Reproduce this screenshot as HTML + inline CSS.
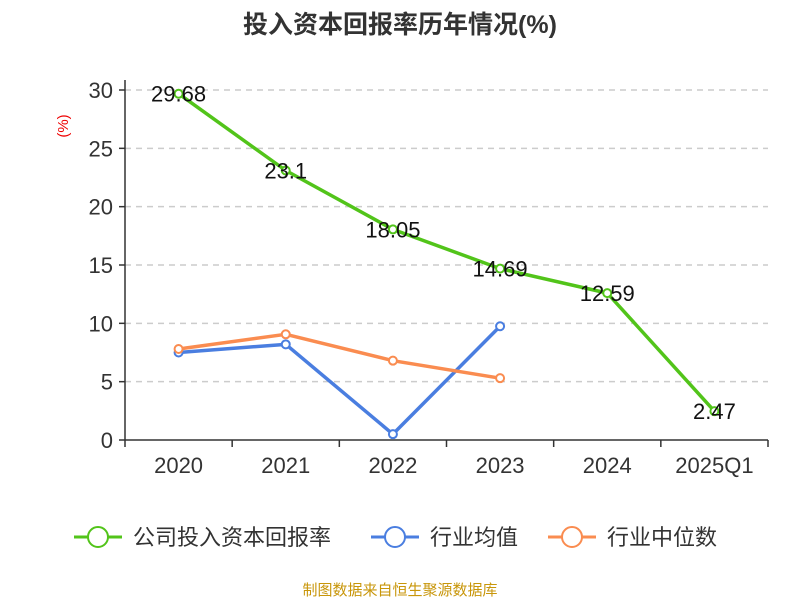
<!DOCTYPE html>
<html><head><meta charset="utf-8"><style>
body{margin:0;background:#fff}
svg text{font-family:"Liberation Sans","Noto Sans CJK SC",sans-serif}
</style></head><body>
<svg id="c" width="800" height="600" xmlns="http://www.w3.org/2000/svg">
<text x="400" y="33" text-anchor="middle" font-size="25" font-weight="bold" fill="#333">投入资本回报率历年情况(%)</text>
<text transform="translate(68,126) rotate(-90)" text-anchor="middle" font-size="15" fill="#e00">(%)</text>
<g id="grid"></g><g id="axes"></g><g id="series"></g>
<g font-size="22" fill="#333">
<g><line x1="74" y1="537" x2="122" y2="537" stroke="#52c41a" stroke-width="3"/><circle cx="98" cy="537" r="10" fill="#fff" stroke="#52c41a" stroke-width="2"/><text x="133" y="545">公司投入资本回报率</text></g>
<g><line x1="371" y1="537" x2="419" y2="537" stroke="#4a7ee0" stroke-width="3"/><circle cx="395" cy="537" r="10" fill="#fff" stroke="#4a7ee0" stroke-width="2"/><text x="430" y="545">行业均值</text></g>
<g><line x1="548" y1="537" x2="596" y2="537" stroke="#fa8c50" stroke-width="3"/><circle cx="572" cy="537" r="10" fill="#fff" stroke="#fa8c50" stroke-width="2"/><text x="607" y="545">行业中位数</text></g>
</g>
<text x="400" y="595" text-anchor="middle" font-size="15" fill="#c8960a">制图数据来自恒生聚源数据库</text>
</svg>
<script>
const categories=["2020","2021","2022","2023","2024","2025Q1"];
const companyValues=[29.68,23.1,18.05,14.69,12.59,2.47];
const avgValues=[7.5,8.2,0.5,9.75];
const medianValues=[7.8,9.06,6.8,5.3];
const yTicks=[0,5,10,15,20,25,30];
const NS="http://www.w3.org/2000/svg";
const x0=125,x1=768,y0=440,yTop=90,yMax=30;
const band=(x1-x0)/categories.length;
const X=i=>x0+band*(i+0.5);
const Y=v=>y0-(v/yMax)*(y0-yTop);
function mk(tag,attrs,parent,txt){const e=document.createElementNS(NS,tag);for(const k in attrs)e.setAttribute(k,attrs[k]);if(txt!=null)e.textContent=txt;document.getElementById(parent).appendChild(e);return e;}
yTicks.forEach(t=>{
 if(t>0){const g=mk('line',{x1:x0,x2:x1,y1:Y(t),y2:Y(t),stroke:'#ccc','stroke-dasharray':'6,5','stroke-width':1.5},'grid');
 
 }
 const tk=mk('line',{x1:x0-6,x2:x0,y1:Y(t),y2:Y(t),stroke:'#333','stroke-width':1.5},'axes');
 
 
 const l=mk('text',{x:x0-12,y:Y(t)+8,'text-anchor':'end','font-size':22,fill:'#333'},'axes',String(t));
 
 
});
const ya=mk('line',{x1:x0,x2:x0,y1:yTop-10,y2:y0,stroke:'#333','stroke-width':1.5},'axes');


const xa=mk('line',{x1:x0,x2:x1,y1:y0,y2:y0,stroke:'#333','stroke-width':1.5},'axes');


for(let i=0;i<=categories.length;i++){const t=mk('line',{x1:x0+band*i,x2:x0+band*i,y1:y0,y2:y0+7,stroke:'#333','stroke-width':1.5},'axes');
 
 }
categories.forEach((c,i)=>{const t=mk('text',{x:X(i),y:y0+33,'text-anchor':'middle','font-size':22,fill:'#333'},'axes',c);
 
 });
function series(vals,color,name,labels){
 const p=mk('polyline',{points:vals.map((v,i)=>X(i)+','+Y(v)).join(' '),fill:'none',stroke:color,'stroke-width':3.5,'stroke-linejoin':'round'},'series');
 
 
 vals.forEach((v,i)=>{const c=mk('circle',{cx:X(i),cy:Y(v),r:4,fill:'#fff',stroke:color,'stroke-width':2},'series');
  
  
  if(labels){const t=mk('text',{x:X(i),y:Y(v)+8,'text-anchor':'middle','font-size':22,fill:'#111'},'series',String(v));
  
  }
 });
}
series(avgValues,'#4a7ee0','industry-avg',false);
series(medianValues,'#fa8c50','industry-median',false);
series(companyValues,'#52c41a','company',true);
</script>
</body></html>
